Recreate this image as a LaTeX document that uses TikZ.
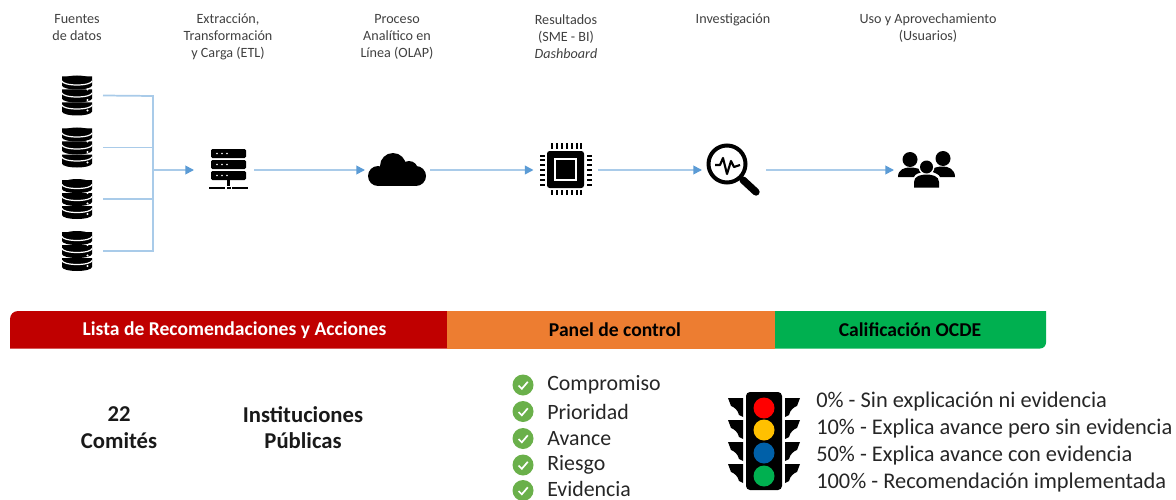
\documentclass[tikz,border=0pt]{standalone}
\usepackage{fontspec}
\setmainfont{Carlito}
\definecolor{lineblue}{HTML}{A9CBE9}
\definecolor{arrowblue}{HTML}{5B9BD5}
\definecolor{txtgray}{HTML}{404040}
\definecolor{barred}{HTML}{C00000}
\definecolor{barorange}{HTML}{ED7D31}
\definecolor{bargreen}{HTML}{00B050}
\definecolor{checkgreen}{HTML}{6AB04A}
\definecolor{lampyellow}{HTML}{FFC000}
\definecolor{lampblue}{HTML}{0060A8}
\usetikzlibrary{arrows.meta}
\tikzset{
 x=0.75pt,y=-0.75pt,
 head/.style={font=\fontsize{10.6}{12.75}\selectfont,text=txtgray,align=center,anchor=center,inner sep=0},
 flow/.style={draw=lineblue,line width=1.3pt},
 flowarrow/.style={flow,-{Triangle[length=6.5pt,width=6.5pt,fill=arrowblue,color=arrowblue]}},
 bartext/.style={font=\fontsize{14.7}{15}\selectfont\bfseries,inner sep=0,anchor=center},
 bold/.style={font=\fontsize{17}{20}\selectfont\bfseries,align=center,inner sep=0,text=black!90},
 item/.style={font=\fontsize{16.4}{18}\selectfont,anchor=west,inner sep=0,text=black!85},
 rate/.style={font=\fontsize{16.8}{18}\selectfont,anchor=west,inner sep=0,text=black!85},
 db/.pic={
  \foreach \yy in {13,0,-13}{
   \fill[black] (-15,\yy-6) -- (-15,\yy+3) arc[start angle=180,end angle=0,x radius=15,y radius=4] -- (15,\yy-6) -- cycle;
  }
  \fill[black] (0,-15) ellipse[x radius=15,y radius=5];
  \draw[white,line width=0.9pt] (-15,-14.5) arc[start angle=180,end angle=0,x radius=15,y radius=4];
  \draw[white,line width=0.9pt] (-15,-2.5) arc[start angle=180,end angle=0,x radius=15,y radius=4];
  \draw[white,line width=0.9pt] (-15,9.5) arc[start angle=180,end angle=0,x radius=15,y radius=4];
  \foreach \yy in {-6,4.5,15}{\fill[white] (10.5,\yy) circle[radius=1.2];}
 },
 checkmark/.pic={
  \fill[checkgreen] (0,0) circle[radius=10.5];
  \draw[white,line width=1.3pt] (-4.5,0.5) -- (-1.2,3.8) -- (4.8,-3.2);
 },
 wingleft/.pic={
  \fill[black] (0,0) -- (15,0) -- (15,19) -- (11,17) .. controls (10,12) and (6,9) .. (3,8) .. controls (2,5) and (1,3) .. (0,0) -- cycle;
 },
 wingright/.pic={
  \fill[black] (0,0) -- (-15,0) -- (-15,19) -- (-11,17) .. controls (-10,12) and (-6,9) .. (-3,8) .. controls (-2,5) and (-1,3) .. (0,0) -- cycle;
 }
}
\begin{document}
\begin{tikzpicture}
\useasboundingbox (0,0) rectangle (1176,499);
% headers
\node[head] (h1) at (77,28) {Fuentes\\de datos};
\node[head] (h2) at (228,37) {Extracción,\\Transformación\\y Carga (ETL)};
\node[head] (h3) at (397,37) {Proceso\\Analítico en\\Línea (OLAP)};
\node[head] (h4) at (566,37) {Resultados\\(SME - BI)\\\textit{Dashboard}};
\node[head] (h5) at (733,20) {Investigación};
\node[head] (h6) at (928,28) {Uso y Aprovechamiento\\(Usuarios)};
% databases
\foreach \i/\yy in {1/95.5,2/147.5,3/199,4/251}{
 \pic at (77,\yy) {db};
 \coordinate (db\i) at (103,\yy);
}
% server
\fill[black,rounded corners=1pt] (211,149) rectangle (246,158);
\fill[black,rounded corners=1pt] (211,160) rectangle (246,169);
\fill[black,rounded corners=1pt] (211,171) rectangle (246,180);
\foreach \yy in {153.5,164.5,175.5}{\foreach \xx in {217,222,227}{\fill[white] (\xx,\yy) circle[radius=0.9];}}
\fill[black] (227,180) rectangle (230,186);
\fill[black] (209,186.5) rectangle (225,189);
\fill[black] (226.5,186.5) rectangle (230.5,189);
\fill[black] (232,186.5) rectangle (248,189);
\node[minimum width=37pt,minimum height=30pt,inner sep=0] (etl) at (228.5,169) {};
% cloud
\fill[black] (393,166) circle[radius=13];
\fill[black] (409,170) circle[radius=9];
\fill[black] (378,176) circle[radius=10];
\fill[black] (416,176) circle[radius=10];
\fill[black] (378,172) rectangle (416,186);
\node[minimum width=43pt,minimum height=25pt,inner sep=0] (olap) at (397,170) {};
% chip
\fill[black,rounded corners=2pt] (547,151) rectangle (584,188);
\draw[white,line width=1.3pt] (555,159) rectangle (576,180);
\foreach \k in {0,...,6}{
 \fill[black] (551+\k*4.9,143.5) rectangle (553+\k*4.9,149);
 \fill[black] (551+\k*4.9,190) rectangle (553+\k*4.9,195);
 \fill[black] (540,154.5+\k*4.9) rectangle (545,156.5+\k*4.9);
 \fill[black] (587,154.5+\k*4.9) rectangle (592,156.5+\k*4.9);
}
\node[minimum width=41pt,minimum height=40pt,inner sep=0] (chip) at (566,169.5) {};
% magnifier
\draw[black,line width=3pt] (727,164) circle[radius=18.5];
\draw[black,line width=1.6pt,line join=round] (715,165) -- (720,165) -- (723,158) -- (727,174) -- (731,161) -- (734,167) -- (740,165);
\draw[black,line width=5.5pt,line cap=round] (743,180) -- (756,192);
\draw[black,line width=1.8pt] (739,176) -- (744,181);
\node[minimum width=41pt,minimum height=40pt,inner sep=0] (mag) at (733,169.5) {};
% people
\fill[black] (910,159.5) circle[radius=7.5];
\fill[black] (943,158.5) circle[radius=7.5];
\fill[black] (898,177) .. controls (898,169) and (905,167.5) .. (910,167.5) .. controls (916,167.5) and (921,169) .. (924,172) .. controls (918,173) and (915,174) .. (914,177) -- cycle;
\fill[black] (955,177) .. controls (955,169) and (948,166.5) .. (943,166.5) .. controls (937,166.5) and (932,168) .. (930,171) .. controls (935,173) and (939,174) .. (940,177) -- cycle;
\fill[white] (926.5,167) circle[radius=8];
\fill[black] (926.5,167) circle[radius=6.5];
\fill[black] (914,187.5) -- (914,182) .. controls (914,176) and (921,174.5) .. (926.5,174.5) .. controls (932,174.5) and (939,176) .. (939,182) -- (939,187.5) -- cycle;
\node[minimum width=43pt,minimum height=28pt,inner sep=0] (users) at (926.5,169.5) {};
% connectors
\coordinate (join) at (153,170);
\coordinate (jtop) at (153,96);
\coordinate (jbot) at (153,251);
\draw[flow] (db1) -- (jtop) -- (jbot) -- (db4);
\draw[flow] (db2) -- (153,147.5);
\draw[flow] (db3) -- (153,199);
\draw[flowarrow] (join) -- (194,170);
\draw[flowarrow] (254,170) -- (365,170);
\draw[flowarrow] (430,170) -- (533.5,170);
\draw[flowarrow] (598,170) -- (702,170);
\draw[flowarrow] (766,170) -- (894,170);
% bars
\fill[barred] (447,311) -- (18,311) arc[start angle=270,end angle=180,radius=8] -- (10,348.5) -- (447,348.5) -- cycle;
\fill[barorange] (447,311) rectangle (775,348.5);
\fill[bargreen] (775,311) -- (1046,311) -- (1046,342.5) arc[start angle=0,end angle=90,radius=6] -- (775,348.5) -- cycle;
\node[bartext,text=white] (b1) at (234.5,330) {Lista de Recomendaciones y Acciones};
\node[bartext,text=black] (b2) at (615,330) {Panel de control};
\node[bartext,text=black] (b3) at (910,330) {Calificación OCDE};
% bold labels
\node[bold] (com) at (119,427.5) {22\\Comités};
\node[bold] (ins) at (303,427.5) {Instituciones\\Públicas};
% checks
\foreach \n/\t/\yy in {1/Compromiso/385,2/Prioridad/411.5,3/Avance/438.5,4/Riesgo/465}{
 \pic at (523,\yy) {checkmark};
 \node[item] (c\n) at (547,\yy) {\t};
}
\pic at (523,490.5) {checkmark};
\node[item] (c5) at (547,488.5) {Evidencia};
% traffic light
\foreach \yy in {398,420,442,464}{
 \pic at (728,\yy) {wingleft};
 \pic at (800,\yy) {wingright};
}
\fill[black,rounded corners=3pt] (746,392) rectangle (782,490);
\fill[red] (764,408) circle[radius=10.5];
\fill[lampyellow] (764,430) circle[radius=10.5];
\fill[lampblue] (764,453) circle[radius=10.5];
\fill[bargreen] (764,476) circle[radius=10.5];
% ratings
\node[rate] (r1) at (816,401.5) {0\% - Sin explicación ni evidencia};
\node[rate] (r2) at (816,428.5) {10\% - Explica avance pero sin evidencia};
\node[rate] (r3) at (816,455.5) {50\% - Explica avance con evidencia};
\node[rate] (r4) at (816,482.5) {100\% - Recomendación implementada};
\end{tikzpicture}
\end{document}
